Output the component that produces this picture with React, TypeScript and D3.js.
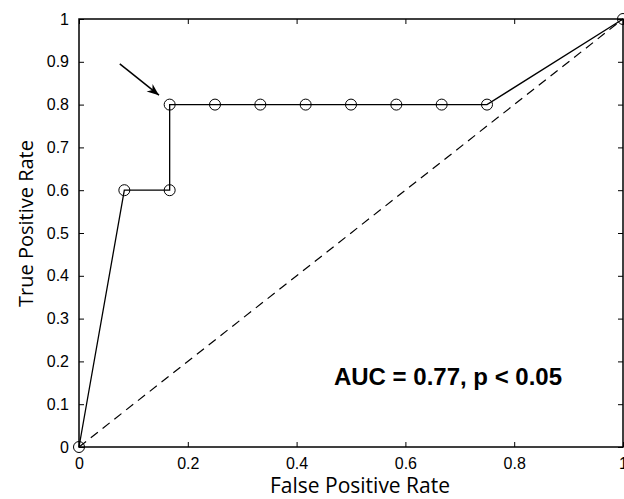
import * as d3 from "d3";
import { useEffect, useRef } from "react";

// ROC points (false positive rate, true positive rate)
const fpr = [0, 1 / 12, 2 / 12, 2 / 12, 3 / 12, 4 / 12, 5 / 12, 6 / 12, 7 / 12, 8 / 12, 9 / 12, 1];
const tpr = [0, 0.6, 0.6, 0.8, 0.8, 0.8, 0.8, 0.8, 0.8, 0.8, 0.8, 1];

const xTicks = [0, 0.2, 0.4, 0.6, 0.8, 1];
const yTicks = [0, 0.1, 0.2, 0.3, 0.4, 0.5, 0.6, 0.7, 0.8, 0.9, 1];

// arrow: from -> tip, in data units
const arrowFrom = [0.075, 0.895];
const arrowTip = [0.147, 0.822];

const aucLabel = "AUC = 0.77, p < 0.05";

export default function App() {
    const ref = useRef<SVGGElement>(null);

    useEffect(() => {
        const margin = { top: 19, left: 79, bottom: 52, right: 1 };
        const svgWidth = 624;
        const svgHeight = 499;
        const width = svgWidth - margin.left - margin.right;
        const height = svgHeight - margin.top - margin.bottom;

        const g = d3.select(ref.current);
        g.selectAll("*").remove();
        g.attr("transform", `translate(${margin.left},${margin.top})`);

        const X = d3.scaleLinear().domain([0, 1]).range([0, width]);
        const Y = d3.scaleLinear().domain([0, 1]).range([height, 0]);

        const font = "'Liberation Sans', Arial, Helvetica, sans-serif";
        const labelFont = "'Open Sans', 'Noto Sans', sans-serif";

        // axes (ticks pointing inward, mirrored)
        const styleAxis = (sel: any) => {
            sel.select(".domain").remove();
            sel.selectAll("line").attr("stroke", "#000").attr("stroke-width", 1);
            sel.selectAll("text").attr("font-family", font).attr("font-size", 16).attr("fill", "#000");
        };

        g.append("g")
            .attr("transform", `translate(0,${height})`)
            .call(d3.axisBottom(X).tickValues(xTicks).tickSize(-5).tickPadding(11).tickFormat(d3.format("")) as any)
            .call(styleAxis);

        g.append("g")
            .call(d3.axisTop(X).tickValues(xTicks).tickSize(-5).tickFormat(() => "") as any)
            .call(styleAxis);

        g.append("g")
            .call(d3.axisLeft(Y).tickValues(yTicks).tickSize(-5).tickPadding(10).tickFormat(d3.format("")) as any)
            .call(styleAxis);

        g.append("g")
            .attr("transform", `translate(${width},0)`)
            .call(d3.axisRight(Y).tickValues(yTicks).tickSize(-5).tickFormat(() => "") as any)
            .call(styleAxis);

        g.append("rect")
            .attr("x", 0).attr("y", 0)
            .attr("width", width).attr("height", height)
            .attr("fill", "none").attr("stroke", "#000").attr("stroke-width", 1.5);

        // chance line
        g.append("line")
            .attr("x1", X(0)).attr("y1", Y(0))
            .attr("x2", X(1)).attr("y2", Y(1))
            .attr("stroke", "#000").attr("stroke-width", 1.2)
            .attr("stroke-dasharray", "9,6");

        const pts = fpr.map((f, i) => [f, tpr[i]]);

        const line = d3.line<number[]>().x(d => X(d[0])).y(d => Y(d[1]));
        g.append("path")
            .attr("d", line(pts))
            .attr("fill", "none").attr("stroke", "#000").attr("stroke-width", 1.3);

        g.selectAll("circle.pt")
            .data(pts)
            .join("circle")
            .attr("class", "pt")
            .attr("cx", d => X(d[0]))
            .attr("cy", d => Y(d[1]))
            .attr("r", 5.5)
            .attr("fill", "none")
            .attr("stroke", "#000")
            .attr("stroke-width", 1);

        // arrow
        const defs = g.append("defs");
        defs.append("marker")
            .attr("id", "arrowHead")
            .attr("viewBox", "0 0 10 10")
            .attr("refX", 10).attr("refY", 5)
            .attr("markerWidth", 16).attr("markerHeight", 12)
            .attr("markerUnits", "userSpaceOnUse")
            .attr("orient", "auto")
            .append("path")
            .attr("d", "M0,1 L10,5 L0,9 L3,5 Z")
            .attr("fill", "#000");

        g.append("line")
            .attr("x1", X(arrowFrom[0])).attr("y1", Y(arrowFrom[1]))
            .attr("x2", X(arrowTip[0])).attr("y2", Y(arrowTip[1]))
            .attr("stroke", "#000").attr("stroke-width", 1.5)
            .attr("marker-end", "url(#arrowHead)");

        // labels
        g.append("text")
            .text(aucLabel)
            .attr("x", 369)
            .attr("y", 366)
            .attr("text-anchor", "middle")
            .attr("font-family", font)
            .attr("font-weight", "bold")
            .attr("font-size", 24)
            .attr("fill", "#000");

        g.append("text")
            .text("False Positive Rate")
            .attr("x", width / 2 + 9)
            .attr("y", height + 46)
            .attr("text-anchor", "middle")
            .attr("font-family", labelFont)
            .attr("font-size", 21)
            .attr("fill", "#000");

        g.append("text")
            .text("True Positive Rate")
            .attr("transform", `translate(-46,${height / 2 - 9.5}) rotate(-90)`)
            .attr("text-anchor", "middle")
            .attr("font-family", labelFont)
            .attr("font-size", 20)
            .attr("fill", "#000");
    }, []);

    return (
        <svg
            width={624}
            height={499}
            style={{ position: "absolute", left: 0, top: 0, background: "#fff" }}
        >
            <g ref={ref}></g>
        </svg>
    );
}
